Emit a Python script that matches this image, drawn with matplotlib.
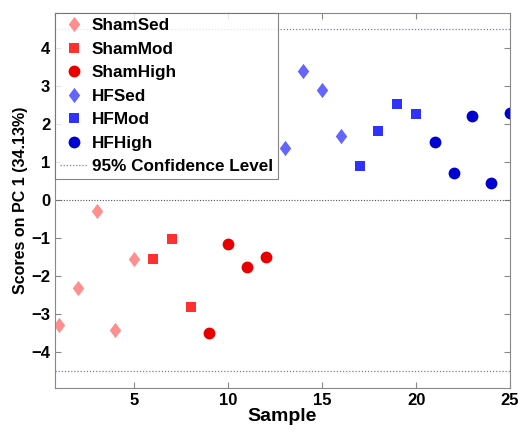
import matplotlib
matplotlib.use("Agg")
import matplotlib.pyplot as plt
from matplotlib.path import Path

plt.rcParams['font.family'] = ['Liberation Sans', 'DejaVu Sans']
plt.rcParams['font.weight'] = 'bold'

groups = ["ShamSed", "ShamMod", "ShamHigh", "HFSed", "HFMod", "HFHigh"]
samples = {
    "ShamSed": [1, 2, 3, 4, 5],
    "ShamMod": [6, 7, 8],
    "ShamHigh": [9, 10, 11, 12],
    "HFSed": [13, 14, 15, 16],
    "HFMod": [17, 18, 19, 20],
    "HFHigh": [21, 22, 23, 24, 25],
}
scores = {
    "ShamSed": [-3.30, -2.33, -0.28, -3.43, -1.55],
    "ShamMod": [-1.55, -1.04, -2.83],
    "ShamHigh": [-3.51, -1.15, -1.76, -1.50],
    "HFSed": [1.37, 3.39, 2.89, 1.68],
    "HFMod": [0.88, 1.81, 2.52, 2.27],
    "HFHigh": [1.53, 0.72, 2.20, 0.45, 2.29],
}
conf_limit = 4.5
xticks = [5, 10, 15, 20, 25]
yticks = [-4, -3, -2, -1, 0, 1, 2, 3, 4]

colors = {"ShamSed": "#FF8E8E", "ShamMod": "#FF3030", "ShamHigh": "#E80000",
          "HFSed": "#6464FF", "HFMod": "#3030FF", "HFHigh": "#0000D0"}

diamond = Path([(0, 1), (0.75, 0), (0, -1), (-0.75, 0), (0, 1)],
               [Path.MOVETO, Path.LINETO, Path.LINETO, Path.LINETO, Path.CLOSEPOLY])
markers = {"ShamSed": diamond, "ShamMod": "s", "ShamHigh": "o",
           "HFSed": diamond, "HFMod": "s", "HFHigh": "o"}
msizes = {"ShamSed": 11, "ShamMod": 6.5, "ShamHigh": 8.5,
          "HFSed": 11, "HFMod": 6.5, "HFHigh": 8.5}

fig = plt.figure(figsize=(5.18, 4.32), dpi=100)
ax = fig.add_axes([55/518, 1 - 388/432, (510-55)/518, (388-13)/432])

for g in groups:
    ax.plot(samples[g], scores[g], linestyle='none', marker=markers[g], color=colors[g],
            markersize=msizes[g], markeredgewidth=0, label=g)

ax.axhline(conf_limit, color='#7070FF', linestyle=(0, (1, 1.5)), linewidth=0.9,
           label='95% Confidence Level')
ax.axhline(-conf_limit, color='#7070FF', linestyle=(0, (1, 1.5)), linewidth=0.9)
ax.axhline(0, color='#555555', linestyle=(0, (1, 1.5)), linewidth=0.8)

ax.set_xlim(0.78, 25)
ax.set_ylim(-4.95, 4.92)
ax.set_xticks(xticks)
ax.set_yticks(yticks)
ax.tick_params(direction='in', top=True, right=True, labelsize=12, length=4,
               color='#888888', width=0.8)
for lab in ax.get_xticklabels() + ax.get_yticklabels():
    lab.set_fontweight('bold')
for s in ax.spines.values():
    s.set_color('#888888')
    s.set_linewidth(0.8)

ax.set_xlabel('Sample', fontsize=14, fontweight='bold', labelpad=0)
ax.set_ylabel('Scores on PC 1 (34.13%)', fontsize=11.5, fontweight='bold', labelpad=2)

leg = ax.legend(loc='upper left', bbox_to_anchor=(0.0, 1.0), fontsize=12.3,
                frameon=True, fancybox=False, borderaxespad=0, handlelength=1.6,
                handletextpad=0.25, labelspacing=0.5, borderpad=0.3)
leg.get_frame().set_edgecolor('#666666')
leg.get_frame().set_linewidth(0.8)
for t in leg.get_texts():
    t.set_fontweight('bold')

fig.savefig('out.png', dpi=100)
